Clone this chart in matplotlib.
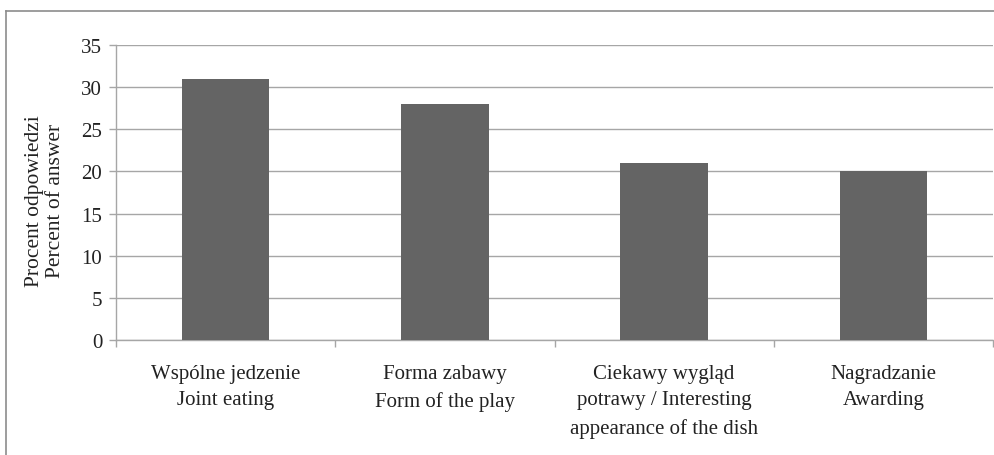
import matplotlib.pyplot as plt
from matplotlib.lines import Line2D

# data
categories = [
    "Wspólne jedzenie\nJoint eating",
    "Forma zabawy\nForm of the play",
    "Ciekawy wygląd\npotrawy / Interesting\nappearance of the dish",
    "Nagradzanie\nAwarding",
]
values = [31, 28, 21, 20]
yticks = [0, 5, 10, 15, 20, 25, 30, 35]

plt.rcParams['font.family'] = ['Liberation Serif', 'DejaVu Serif']

fig = plt.figure(figsize=(9.95, 4.56), dpi=100)
ax = fig.add_axes([0.1166, 0.252, 0.8814, 0.647])

x = list(range(len(values)))
ax.bar(x, values, width=0.4, color='#646464', zorder=3)

ax.set_xlim(-0.5, len(values) - 0.5)
ax.set_ylim(0, 35)
ax.set_yticks(yticks)
ax.yaxis.grid(True, color='#a6a6a6', linewidth=1, zorder=0)

# category labels between boundary ticks
ax.set_xticks(x)
ax.set_xticklabels(categories, fontsize=15, linespacing=1.55, color='#222222')
ax.tick_params(axis='x', length=0, pad=17)
ax.set_xticks([i - 0.5 for i in range(len(values) + 1)], minor=True)
ax.tick_params(axis='x', which='minor', length=5, color='#a6a6a6', width=1)
ax.tick_params(axis='y', length=5, color='#a6a6a6', width=1, labelsize=15,
               labelcolor='#222222', pad=5)

for s in ['top', 'right']:
    ax.spines[s].set_visible(False)
for s in ['left', 'bottom']:
    ax.spines[s].set_color('#a6a6a6')
    ax.spines[s].set_linewidth(1)

ax.set_ylabel("Procent odpowiedzi\nPercent of answer", fontsize=15.5,
              color='#222222', linespacing=1.15)
ax.yaxis.set_label_coords(-0.0585, 0.475)

# outer frame (left and top edges)
fig.add_artist(Line2D([0.0065, 0.0065], [0, 0.974], color='#8c8c8c', linewidth=1.2,
                      transform=fig.transFigure))
fig.add_artist(Line2D([0.0065, 1.0], [0.974, 0.974], color='#8c8c8c', linewidth=1.2,
                      transform=fig.transFigure))

fig.savefig('out.png', dpi=100)
